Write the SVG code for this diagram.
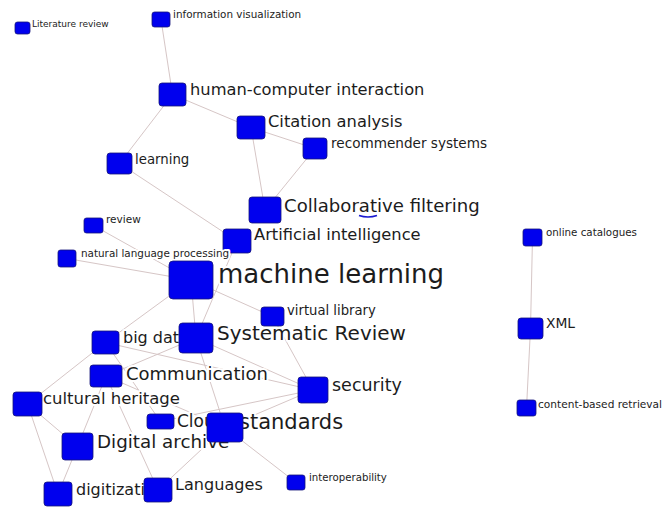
<svg xmlns="http://www.w3.org/2000/svg" width="662" height="507" viewBox="0 0 662 507">
<style>
.bg{fill:#ffffff}
.e{stroke:#d6c6c6;stroke-width:1;fill:none}
.n{fill:#0000ee;stroke:#14147a;stroke-width:0.8}
.t{font-family:"DejaVu Sans",Verdana,sans-serif;fill:#1c1c1c;stroke:#ffffff;stroke-width:4;stroke-linejoin:round;paint-order:stroke}
</style>
<rect class="bg" x="0" y="0" width="662" height="507"/>
<g id="connectors">
<line class="e" x1="161" y1="19.5" x2="172.5" y2="94.5"/>
<line class="e" x1="172.5" y1="94.5" x2="251" y2="127.5"/>
<line class="e" x1="172.5" y1="94.5" x2="119.5" y2="163.5"/>
<line class="e" x1="251" y1="127.5" x2="315" y2="148.5"/>
<line class="e" x1="251" y1="127.5" x2="265" y2="210"/>
<line class="e" x1="315" y1="148.5" x2="265" y2="210"/>
<line class="e" x1="119.5" y1="163.5" x2="237" y2="241"/>
<line class="e" x1="93.5" y1="225.5" x2="191" y2="280"/>
<line class="e" x1="67" y1="258.5" x2="191" y2="280"/>
<line class="e" x1="191" y1="280" x2="272.5" y2="316.5"/>
<line class="e" x1="191" y1="280" x2="196" y2="338"/>
<line class="e" x1="191" y1="280" x2="105.5" y2="342.5"/>
<line class="e" x1="237" y1="241" x2="196" y2="338"/>
<line class="e" x1="272.5" y1="316.5" x2="313" y2="390"/>
<line class="e" x1="196" y1="338" x2="313" y2="390"/>
<line class="e" x1="196" y1="338" x2="106" y2="376"/>
<line class="e" x1="196" y1="338" x2="225" y2="427.5"/>
<line class="e" x1="105.5" y1="342.5" x2="27.5" y2="404"/>
<line class="e" x1="105.5" y1="342.5" x2="160.5" y2="421.5"/>
<line class="e" x1="105.5" y1="342.5" x2="313" y2="390"/>
<line class="e" x1="106" y1="376" x2="158" y2="490"/>
<line class="e" x1="106" y1="376" x2="77.5" y2="446.5"/>
<line class="e" x1="106" y1="376" x2="225" y2="427.5"/>
<line class="e" x1="27.5" y1="404" x2="77.5" y2="446.5"/>
<line class="e" x1="27.5" y1="404" x2="58" y2="494"/>
<line class="e" x1="77.5" y1="446.5" x2="58" y2="494"/>
<line class="e" x1="158" y1="490" x2="225" y2="427.5"/>
<line class="e" x1="225" y1="427.5" x2="313" y2="390"/>
<line class="e" x1="160.5" y1="421.5" x2="313" y2="390"/>
<line class="e" x1="225" y1="427.5" x2="296" y2="482.5"/>
<line class="e" x1="532.5" y1="237.5" x2="530.5" y2="328.5"/>
<line class="e" x1="530.5" y1="328.5" x2="526.5" y2="408"/>
</g>
<g id="node-literature-review"><text class="t" x="32" y="26.5" font-size="9">Literature review</text><rect class="n" x="15" y="22" width="15" height="12" rx="2.5"/></g>
<g id="node-information-visualization"><text class="t" x="173" y="17.5" font-size="10.4">information visualization</text><rect class="n" x="152" y="12" width="18" height="15" rx="2.5"/></g>
<g id="node-human-computer-interaction"><text class="t" x="190" y="95" font-size="16.3">human-computer interaction</text><rect class="n" x="159" y="83" width="27" height="23" rx="3"/></g>
<g id="node-citation-analysis"><text class="t" x="268" y="127" font-size="16.3">Citation analysis</text><rect class="n" x="237" y="116" width="28" height="23" rx="3"/></g>
<g id="node-recommender-systems"><text class="t" x="331" y="148" font-size="13.6">recommender systems</text><rect class="n" x="303" y="138" width="24" height="21" rx="3"/></g>
<g id="node-learning"><text class="t" x="135" y="163.5" font-size="13.3">learning</text><rect class="n" x="107" y="153" width="25" height="21" rx="3"/></g>
<g id="node-collaborative-filtering"><text class="t" x="284" y="212" font-size="18.1">Collaborative filtering</text><path d="M359,215.5 Q368,218.5 377,215.5" fill="none" stroke="#1a1ad0" stroke-width="1.6"/><rect class="n" x="249" y="197" width="32" height="26" rx="3"/></g>
<g id="node-artificial-intelligence"><text class="t" x="254" y="240" font-size="16.3">Artificial intelligence</text><rect class="n" x="223" y="229" width="28" height="24" rx="3"/></g>
<g id="node-review"><text class="t" x="106" y="223" font-size="10.5">review</text><rect class="n" x="84" y="218" width="19" height="15" rx="2.5"/></g>
<g id="node-natural-language-processing"><text class="t" x="81" y="257" font-size="10.4">natural language processing</text><rect class="n" x="58" y="250" width="18" height="17" rx="2.5"/></g>
<g id="node-machine-learning"><text class="t" x="218" y="283" font-size="26">machine learning</text><rect class="n" x="169" y="261" width="44" height="38" rx="4"/></g>
<g id="node-big-data"><text class="t" x="123" y="343" font-size="16">big data</text><rect class="n" x="92" y="331" width="27" height="23" rx="3"/></g>
<g id="node-systematic-review"><text class="t" x="217" y="340" font-size="20">Systematic Review</text><rect class="n" x="179" y="323" width="34" height="30" rx="3.5"/></g>
<g id="node-virtual-library"><text class="t" x="287" y="315" font-size="13.2">virtual library</text><rect class="n" x="261" y="307" width="23" height="19" rx="3"/></g>
<g id="node-communication"><text class="t" x="126" y="380" font-size="18">Communication</text><rect class="n" x="90" y="365" width="32" height="22" rx="3"/></g>
<g id="node-cultural-heritage"><text class="t" x="43" y="404" font-size="16.5">cultural heritage</text><rect class="n" x="13" y="392" width="29" height="24" rx="3"/></g>
<g id="node-cloud"><text class="t" x="177" y="427" font-size="17">Cloud</text><rect class="n" x="147" y="414" width="27" height="15" rx="3"/></g>
<g id="node-digital-archive"><text class="t" x="97" y="448" font-size="18.3">Digital archive</text><rect class="n" x="62" y="433" width="31" height="27" rx="3"/></g>
<g id="node-digitization"><text class="t" x="76" y="495" font-size="16">digitization</text><rect class="n" x="44" y="482" width="28" height="24" rx="3"/></g>
<g id="node-languages"><text class="t" x="175" y="490" font-size="16.1">Languages</text><rect class="n" x="144" y="478" width="28" height="24" rx="3"/></g>
<g id="node-standards"><text class="t" x="239" y="429" font-size="21">standards</text><rect class="n" x="207" y="413" width="36" height="29" rx="3.5"/></g>
<g id="node-security"><text class="t" x="332" y="391" font-size="17.5">security</text><rect class="n" x="298" y="377" width="30" height="26" rx="3"/></g>
<g id="node-interoperability"><text class="t" x="309" y="481" font-size="10.2">interoperability</text><rect class="n" x="287" y="475" width="18" height="15" rx="2.5"/></g>
<g id="node-online-catalogues"><text class="t" x="546" y="236" font-size="10.3">online catalogues</text><rect class="n" x="523" y="229" width="19" height="17" rx="2.5"/></g>
<g id="node-xml"><text class="t" x="546" y="328" font-size="13.8">XML</text><rect class="n" x="518" y="318" width="25" height="21" rx="3"/></g>
<g id="node-content-based-retrieval"><text class="t" x="538" y="407.5" font-size="10.6">content-based retrieval</text><rect class="n" x="517" y="400" width="19" height="16" rx="2.5"/></g>
</svg>
